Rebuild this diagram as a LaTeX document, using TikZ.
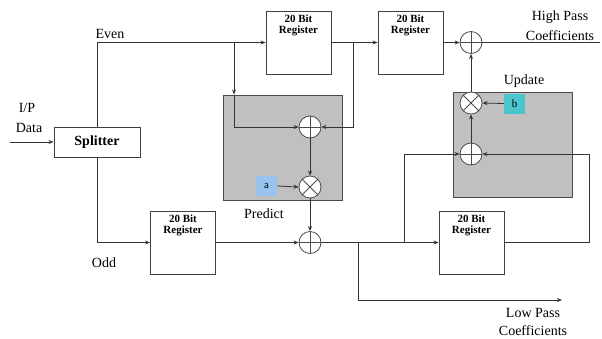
\documentclass[tikz,border=0pt]{standalone}
\usepackage{fontspec}
\setmainfont{Liberation Serif}
\usepackage{tikz}
\usetikzlibrary{arrows.meta, calc, positioning}
\definecolor{liftgray}{RGB}{192,192,192}
\definecolor{coefa}{RGB}{153,194,236}
\definecolor{coefb}{RGB}{72,198,204}
\tikzset{
    line/.style = {draw=black!80, line width=0.8pt},
    arr/.style = {line, -{Stealth[length=5pt,width=4pt]}},
    reg/.style = {rectangle, draw=black!75, line width=0.9pt, fill=white, minimum width=65pt, minimum height=63pt},
    regtext/.style = {font=\fontsize{11}{11.5}\selectfont\bfseries, align=center, anchor=north, inner sep=0pt, yshift=-4pt},
    liftbox/.style = {rectangle, draw=black!70, line width=0.9pt, fill=liftgray, minimum width=119pt, minimum height=105pt},
    adder/.style = {circle, draw=black!70, line width=0.8pt, fill=white, minimum size=22pt, inner sep=0pt,
        path picture={\draw[black!70, line width=0.8pt] (path picture bounding box.north) -- (path picture bounding box.south)
            (path picture bounding box.west) -- (path picture bounding box.east);}},
    mult/.style = {circle, draw=black!70, line width=0.8pt, fill=white, minimum size=22pt, inner sep=0pt,
        path picture={\draw[black!70, line width=0.8pt] (path picture bounding box.north west) -- (path picture bounding box.south east)
            (path picture bounding box.south west) -- (path picture bounding box.north east);}},
    coefbox/.style = {rectangle, minimum width=21pt, minimum height=20pt, inner sep=0pt, font=\fontsize{11}{11}\selectfont},
    txt/.style = {font=\fontsize{14}{14}\selectfont, inner sep=0pt}
}
\begin{document}
\begin{tikzpicture}[x=1pt, y=-1pt]
    \useasboundingbox (0,0) rectangle (602,338);
    % lifting boxes
    \node[liftbox] (pbox) at (282.5,147.5) {};
    \node[liftbox] (ubox) at (512.5,144.5) {};
    % blocks
    \node[rectangle, draw=black!75, line width=0.9pt, minimum width=86pt, minimum height=30pt, font=\fontsize{14}{14}\selectfont\bfseries] (split) at (97,142) {Splitter};
    \node[reg, label={[regtext]north:{20 Bit\\Register}}] (r1) at (298.5,42.5) {};
    \node[reg, label={[regtext]north:{20 Bit\\Register}}] (r2) at (410.5,42.5) {};
    \node[reg, label={[regtext]north:{20 Bit\\Register}}] (r3) at (471.5,242.5) {};
    \node[reg, label={[regtext]north:{20 Bit\\Register}}] (r4) at (183,242.5) {};
    \node[adder] (p1) at (310,127) {};
    \node[mult] (p2) at (310,187) {};
    \node[adder] (o) at (310,242.5) {};
    \node[adder] (h) at (471,42.5) {};
    \node[adder] (u1) at (471,154) {};
    \node[mult] (u2) at (471,103) {};
    \node[coefbox, fill=coefa, font=\fontsize{11}{11}\selectfont\sffamily] (a) at (266.5,186) {a};
    \node[coefbox, fill=coefb] (b) at (514.5,103.5) {b};
    % labels
    \node[txt] (ip) at (27,108) {I/P};
    \node[txt] (data) at (29,128) {Data};
    \node[txt] (even) at (110,34) {Even};
    \node[txt] (odd) at (104,263) {Odd};
    \node[txt] (pred) at (264,214) {Predict};
    \node[txt] (upd) at (524,81) {Update};
    \node[txt] (hp1) at (560,17) {High Pass};
    \node[txt] (hp2) at (560,36) {Coefficients};
    \node[txt] (lp1) at (533,313) {Low Pass};
    \node[txt] (lp2) at (533,331) {Coefficients};
    % branch points
    \coordinate (in) at (10,142);
    \coordinate (ev) at (234,42.5);
    \coordinate (od) at (353,42.5);
    \coordinate (lo) at (358,242.5);
    \coordinate (lp) at (562,300);
    \coordinate (up) at (404,242.5);
    \coordinate (hout) at (600,42.5);
    % connectors
    \draw[arr] (in) -- (split.west);
    \draw[arr] (split.north) |- (r1.west);
    \draw[arr] (split.south) |- (r4.west);
    \draw[arr] (ev) -- (ev |- pbox.north);
    \draw[arr] (ev |- pbox.north) |- (p1.west);
    \draw[arr] (r1.east) -- (r2.west);
    \draw[arr] (od) |- (p1.east);
    \draw[arr] (p1.south) -- (p2.north);
    \draw[arr] (a.east) -- (p2.west);
    \draw[arr] (p2.south) -- (o.north);
    \draw[arr] (r4.east) -- (o.west);
    \draw[arr] (o.east) -- (r3.west);
    \draw[arr] (lo) |- (lp);
    \draw[arr] (up) |- (u1.west);
    \draw[arr] (r3.east) -- ++(85,0) |- (u1.east);
    \draw[arr] (u1.north) -- (u2.south);
    \draw[arr] (b.west) -- (u2.east);
    \draw[arr] (u2.north) -- (h.south);
    \draw[arr] (r2.east) -- (h.west);
    \draw[line] (h.east) -- (hout);
\end{tikzpicture}
\end{document}
